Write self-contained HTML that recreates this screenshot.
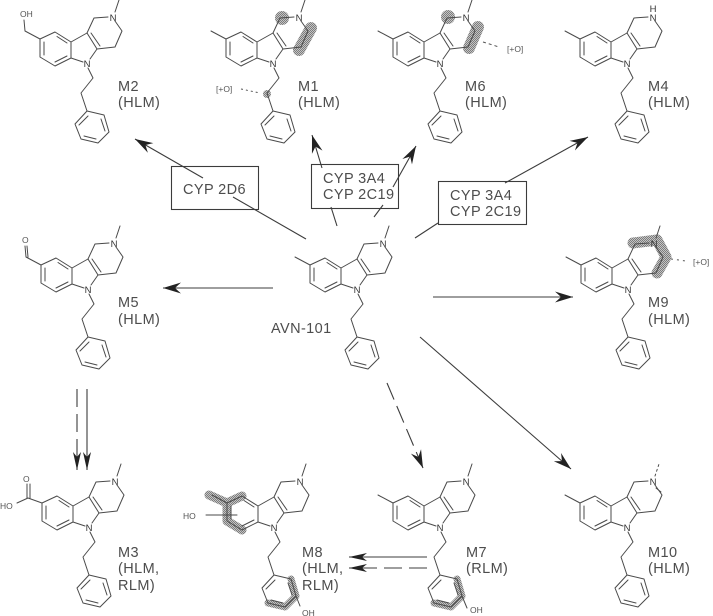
<!DOCTYPE html>
<html lang="en">
<head>
<meta charset="utf-8">
<title>AVN-101 metabolites</title>
<style>
html,body{margin:0;padding:0;background:#fff;}
svg{display:block;width:713px;height:616px;}
.b{fill:none;stroke:#4a4a4a;stroke-width:1;stroke-linecap:round;stroke-linejoin:round;}
.a{fill:none;stroke:#3c3c3c;stroke-width:1.1;}
text{font-family:"Liberation Sans",sans-serif;fill:#4d4d4d;}
.l{font-size:14.5px;letter-spacing:.4px;}
.n{font-size:9.5px;text-anchor:middle;fill:#333;}
.s{font-size:8.5px;fill:#555;}
.h{fill:none;stroke:url(#dots);stroke-linecap:round;stroke-linejoin:round;}
</style>
</head>
<body>
<svg xmlns="http://www.w3.org/2000/svg" width="713" height="616" viewBox="0 0 713 616">
<defs>
<pattern id="dots" patternUnits="userSpaceOnUse" width="2" height="2">
<rect width="2" height="2" fill="#c4c4c4"/>
<rect width="1" height="1" fill="#7c7c7c"/>
<rect x="1" y="1" width="1" height="1" fill="#7c7c7c"/>
</pattern>
<marker id="ah" markerUnits="userSpaceOnUse" markerWidth="19" markerHeight="12" refX="18" refY="6" orient="auto">
<path d="M18,6 L0,0.5 L6,6 L0,11.5 Z" fill="#222"/>
</marker>
<marker id="an" markerUnits="userSpaceOnUse" markerWidth="19" markerHeight="10" refX="18" refY="5" orient="auto">
<path d="M18,5 L0,1 L5,5 L0,9 Z" fill="#222"/>
</marker>
<g id="core" class="b">
<path d="M40,39 L55,32 L71,42 L71,58 L55,66 L40,57 Z"/>
<path d="M44,42 L44,55 M57,36.500 L67,43 M55,62 L67,56"/>
<path d="M71,42 L87,33 L97,49 L90,59 M71,58 L83,62"/>
<path d="M91,33 L100,46"/>
<path d="M87,33 L94,18 L108,17 M115,21 L122,31 L115,47 L97,49"/>
<path d="M88,68 L93,78 L81,93 L87,111"/>
<path d="M87,111 L104,115 L109,132 L98,143 L81,139 L75,124 Z"/>
<path d="M88,116 L79,125 M101,119 L105,131 M96,139 L84,136"/>
</g>
</defs>

<!-- shading -->
<circle cx="282" cy="18" r="7" fill="url(#dots)"/>
<path class="h" stroke-width="12" d="M311,28 L299,50"/>
<circle cx="267" cy="94" r="4" fill="url(#dots)"/>
<circle cx="448" cy="17" r="7" fill="url(#dots)"/>
<path class="h" stroke-width="12" d="M478,27 L469,48"/>
<path class="h" stroke-width="11" d="M633,243 L657,240 L666,257 L657,273"/>
<path class="h" stroke-width="9" d="M209,495 L227,503 L242,496 M227,503 L227,521 L242,530"/>
<path class="h" stroke-width="7" d="M291,579 L296,596 L285,607 L268,603"/>
<path class="h" stroke-width="7" d="M457,579 L462,596 L451,607 L434,603"/>

<!-- M2 -->
<use href="#core"/>
<g class="b"><path d="M40,39 L25,31 L24,20 M115,12 L119,0"/></g>
<text class="n" x="113" y="21">N</text><text class="n" x="87" y="67">N</text>
<text class="s" x="20" y="17">OH</text>
<text class="l" x="118" y="91">M2</text><text class="l" x="118" y="107">(HLM)</text>

<!-- M1 -->
<g transform="translate(186,0)"><use href="#core"/><g class="b"><path d="M40,39 L25,31 M115,12 L119,0"/></g>
<text class="n" x="113" y="21">N</text><text class="n" x="87" y="67">N</text></g>
<path d="M241,89 L260,93" fill="none" stroke="#555" stroke-dasharray="2 3"/>
<text class="s" x="216" y="92">[+O]</text>
<text class="l" x="298" y="91">M1</text><text class="l" x="298" y="107">(HLM)</text>

<!-- M6 -->
<g transform="translate(353,0)"><use href="#core"/><g class="b"><path d="M40,39 L25,31 M115,12 L119,0"/></g>
<text class="n" x="113" y="21">N</text><text class="n" x="87" y="67">N</text></g>
<path d="M483,42 L499,47" fill="none" stroke="#555" stroke-dasharray="3 3"/>
<text class="s" x="507" y="52">[+O]</text>
<text class="l" x="465" y="91">M6</text><text class="l" x="465" y="107">(HLM)</text>

<!-- M4 -->
<g transform="translate(540,0)"><use href="#core"/><g class="b"><path d="M40,39 L25,31"/></g>
<text class="n" x="113" y="21">N</text><text class="n" x="113" y="12">H</text><text class="n" x="87" y="67">N</text></g>
<text class="l" x="648" y="91">M4</text><text class="l" x="648" y="107">(HLM)</text>

<!-- M5 -->
<g transform="translate(1,226)"><use href="#core"/><g class="b"><path d="M40,39 L25,31 L24,20 M27,31 L26,20 M115,12 L119,0"/></g>
<text class="n" x="113" y="21">N</text><text class="n" x="87" y="67">N</text>
<text class="s" x="21" y="17" font-size="9">O</text></g>
<text class="l" x="118" y="307">M5</text><text class="l" x="118" y="324">(HLM)</text>

<!-- AVN-101 -->
<g transform="translate(270,226)"><use href="#core"/><g class="b"><path d="M40,39 L25,31 M115,12 L119,0"/></g>
<text class="n" x="113" y="21">N</text><text class="n" x="87" y="67">N</text></g>
<text class="l" x="271" y="333">AVN-101</text>

<!-- M9 -->
<g transform="translate(541,226)"><use href="#core"/><g class="b"><path d="M40,39 L25,31 M115,12 L119,0"/></g>
<text class="n" x="113" y="21">N</text><text class="n" x="87" y="67">N</text></g>
<path d="M671,259 L686,261" fill="none" stroke="#555" stroke-dasharray="2 4"/>
<text class="s" x="693" y="265">[+O]</text>
<text class="l" x="648" y="307">M9</text><text class="l" x="648" y="324">(HLM)</text>

<!-- M3 -->
<g transform="translate(2,464)"><use href="#core"/><g class="b"><path d="M40,39 L26,34 L15,39 M25,34 L25,20 M28,34 L28,20 M115,12 L119,0"/></g>
<text class="n" x="113" y="21">N</text><text class="n" x="87" y="67">N</text></g>
<text class="s" x="23" y="482" font-size="9">O</text>
<text class="s" x="0" y="509">HO</text>
<text class="l" x="118" y="557">M3</text><text class="l" x="118" y="573">(HLM,</text><text class="l" x="118" y="590">RLM)</text>

<!-- M8 -->
<g transform="translate(187,464)"><use href="#core"/><g class="b"><path d="M40,39 L25,31 M115,12 L119,0 M109,132 L113,142"/></g>
<text class="n" x="113" y="21">N</text><text class="n" x="87" y="67">N</text></g>
<path class="b" d="M206,515 L237,515"/>
<text class="s" x="183" y="519">HO</text>
<text class="s" x="302" y="616">OH</text>
<text class="l" x="302" y="557">M8</text><text class="l" x="302" y="573">(HLM,</text><text class="l" x="302" y="590">RLM)</text>

<!-- M7 -->
<g transform="translate(353,464)"><use href="#core"/><g class="b"><path d="M40,39 L25,31 M115,12 L119,0 M109,132 L114,144"/></g>
<text class="n" x="113" y="21">N</text><text class="n" x="87" y="67">N</text></g>
<text class="s" x="470" y="613">OH</text>
<text class="l" x="466" y="557">M7</text><text class="l" x="466" y="573">(RLM)</text>

<!-- M10 -->
<g transform="translate(540,464)"><use href="#core"/><g class="b"><path d="M40,39 L25,31 M116,24 L121,28"/><path d="M115,12 L119,0" stroke-dasharray="2 3"/></g>
<text class="n" x="113" y="21">N</text><text class="n" x="87" y="67">N</text></g>
<text class="l" x="648" y="557">M10</text><text class="l" x="648" y="573">(HLM)</text>

<!-- boxes -->
<rect class="a" x="171.500" y="166.500" width="87" height="43"/>
<text class="l" x="183" y="194">CYP 2D6</text>
<rect class="a" x="311.500" y="164.500" width="87" height="44"/>
<text class="l" x="323" y="183">CYP 3A4</text><text class="l" x="323" y="199">CYP 2C19</text>
<rect class="a" x="438.500" y="181.500" width="88" height="43"/>
<text class="l" x="450" y="200">CYP 3A4</text><text class="l" x="450" y="216">CYP 2C19</text>

<!-- arrows -->
<path class="a" d="M306,239 L233,197"/>
<path class="a" d="M203,178 L135,139" marker-end="url(#ah)"/>
<path class="a" d="M337,226 L331,207"/>
<path class="a" d="M322,168 L312,135" marker-end="url(#ah)"/>
<path class="a" d="M374,217 L383,205"/>
<path class="a" d="M393,187 L416,146" marker-end="url(#ah)"/>
<path class="a" d="M415,238 L438,223"/>
<path class="a" d="M505,183 L588,137" marker-end="url(#ah)"/>
<path class="a" d="M273,288 L163,288" marker-end="url(#ah)"/>
<path class="a" d="M433,297 L573,297" marker-end="url(#ah)"/>
<path class="a" d="M420,337 L571,469" marker-end="url(#ah)"/>
<path class="a" d="M387,383 L423,468" stroke-dasharray="18 7" marker-end="url(#ah)"/>
<path class="a" d="M77,389 L77,470" stroke-dasharray="18 7" marker-end="url(#an)"/>
<path class="a" d="M87,389 L87,470" marker-end="url(#an)"/>
<path class="a" d="M427,557 L349,557" marker-end="url(#an)"/>
<path class="a" d="M427,568 L349,568" stroke-dasharray="18 7" marker-end="url(#an)"/>
</svg>
</body>
</html>
